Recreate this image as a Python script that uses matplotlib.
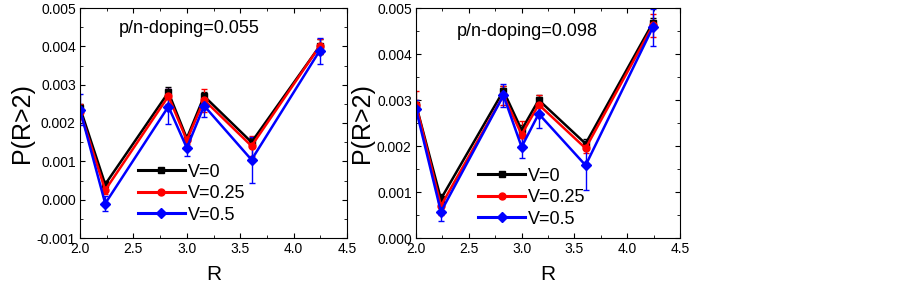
import matplotlib
matplotlib.use("Agg")
import matplotlib.pyplot as plt
from matplotlib.lines import Line2D
from matplotlib.ticker import MultipleLocator, FormatStrFormatter

plt.rcParams['font.family'] = ['Liberation Sans', 'DejaVu Sans']

R = [2.0, 2.236, 2.828, 3.0, 3.162, 3.606, 4.243]
labels = ["V=0", "V=0.25", "V=0.5"]
colors = ["black", "red", "blue"]
markers = ["s", "o", "D"]

# panel 1: doping 0.055
p1_v0 = [0.0024, 0.0004, 0.0028, 0.0016, 0.0027, 0.0015, 0.0040]
p1_v025 = [0.0023, 0.00025, 0.0027, 0.00155, 0.0026, 0.0014, 0.0040]
p1_v05 = [0.00235, -0.0001, 0.00243, 0.00135, 0.00245, 0.00104, 0.00388]
p1_e0 = [0.0001, 0.0001, 0.00015, 0.0001, 0.0001, 0.0001, 0.0002]
p1_e025 = [0.0002, 0.0001, 0.0002, 0.0001, 0.0003, 0.00025, 0.0002]
p1_e05 = [0.0004, 0.0002, 0.00045, 0.0002, 0.0003, 0.0006, 0.00035]

# panel 2: doping 0.098
p2_v0 = [0.0029, 0.00085, 0.0032, 0.00235, 0.0030, 0.00205, 0.00468]
p2_v025 = [0.0029, 0.0007, 0.0031, 0.00225, 0.0029, 0.00195, 0.00462]
p2_v05 = [0.0028, 0.00057, 0.0031, 0.00198, 0.0027, 0.00158, 0.00458]
p2_e0 = [0.0001, 0.0001, 0.0001, 0.0001, 0.0001, 0.0001, 0.0001]
p2_e025 = [0.0003, 0.0002, 0.0002, 0.0003, 0.0002, 0.0001, 0.00025]
p2_e05 = [0.0002, 0.0002, 0.00025, 0.00023, 0.0003, 0.00053, 0.0004]

panels = [
    dict(vals=[p1_v0, p1_v025, p1_v05], errs=[p1_e0, p1_e025, p1_e05],
         ylim=(-0.001, 0.005), text="p/n-doping=0.055",
         pos=[80/903, 1-238/282, 267/903, 230/282], tpos=(0.408, 0.913),
         leg=(0.217, 0.062)),
    dict(vals=[p2_v0, p2_v025, p2_v05], errs=[p2_e0, p2_e025, p2_e05],
         ylim=(0.0, 0.005), text="p/n-doping=0.098",
         pos=[416/903, 1-238/282, 264/903, 230/282], tpos=(0.42, 0.896),
         leg=(0.235, 0.045)),
]

fig = plt.figure(figsize=(9.03, 2.82), dpi=100)
for p in panels:
    ax = fig.add_axes(p["pos"])
    handles = []
    for v, e, c, m, lab in zip(p["vals"], p["errs"], colors, markers, labels):
        ms = 5
        ax.errorbar(R, v, yerr=e, color=c, marker=m, markersize=ms,
                    linewidth=1.8, elinewidth=1.0, capsize=2.5, capthick=1.0)
        handles.append(Line2D([], [], color=c, marker=m, markersize=ms,
                              linewidth=2.2, label=lab))
    ax.set_xlim(2.0, 4.5)
    ax.set_ylim(*p["ylim"])
    ax.xaxis.set_major_locator(MultipleLocator(0.5))
    ax.xaxis.set_minor_locator(MultipleLocator(0.25))
    ax.yaxis.set_major_locator(MultipleLocator(0.001))
    ax.yaxis.set_minor_locator(MultipleLocator(0.0005))
    ax.xaxis.set_major_formatter(FormatStrFormatter('%.1f'))
    ax.yaxis.set_major_formatter(FormatStrFormatter('%.3f'))
    ax.tick_params(which='both', direction='in', top=True, right=True, labelsize=10)
    ax.tick_params(which='major', length=3.5, pad=3)
    ax.tick_params(which='minor', length=2)
    ax.set_xlabel("R", fontsize=15, labelpad=6)
    ax.set_ylabel("P(R>2)", fontsize=18, labelpad=2)
    ax.text(p["tpos"][0], p["tpos"][1], p["text"], transform=ax.transAxes,
            ha='center', va='center', fontsize=13)
    ax.legend(handles=handles, loc='lower left', bbox_to_anchor=p["leg"], frameon=False,
              fontsize=13, handlelength=2.6, handletextpad=0.15, labelspacing=0.25,
              borderpad=0.0, borderaxespad=0.0)

fig.savefig("out.png", dpi=100)
